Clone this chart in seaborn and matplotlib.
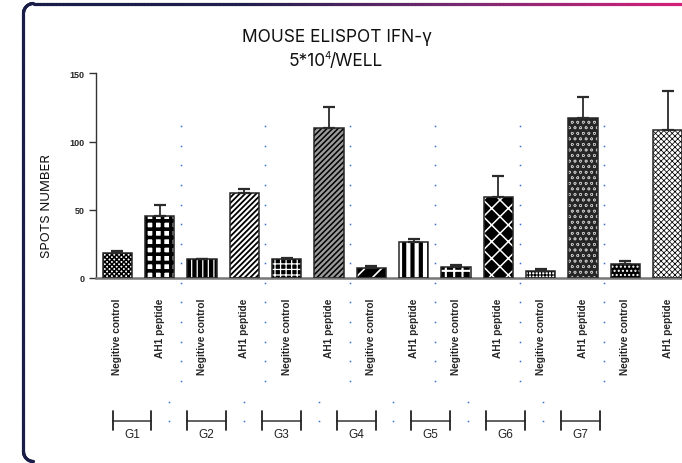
import numpy as np
import pandas as pd
import seaborn as sns
import matplotlib.pyplot as plt
from matplotlib.collections import LineCollection
from matplotlib.colors import LinearSegmentedColormap

# --- data ---
groups = ["G1", "G2", "G3", "G4", "G5", "G6", "G7"]
treatments = ["Negitive control", "AH1 peptide"]
spots_mean = [18.0, 45.4, 13.7, 62.0, 13.7, 110.0, 7.3, 26.3,
              7.8, 59.3, 5.4, 117.0, 10.2, 108.5]
spots_sem = [1.7, 8.2, 0.5, 3.0, 1.2, 15.3, 1.2, 2.0,
             2.0, 15.6, 0.9, 15.9, 2.0, 28.8]
y_ticks = [0, 50, 100, 150]

# face colour, hatch colour, hatch, hatch line width (one per bar)
bar_styles = [
    ("white", "black", "xxxxxxx", 1.1),
    ("white", "black", "++", 2.6),
    ("black", "white", "|||", 0.9),
    ("white", "black", "//////", 1.3),
    ("black", "white", "+++", 0.9),
    ("#9a9a9a", "black", "//////", 1.1),
    ("black", "white", "//", 1.2),
    ("white", "black", "||", 3.0),
    ("black", "white", "++", 1.5),
    ("black", "white", "xx", 1.1),
    ("white", "black", "+++++", 0.8),
    ("#262626", "#bbbbbb", "ooo", 0.45),
    ("black", "white", "....", 1.0),
    ("white", "black", "xxxxxx", 0.55),
]

bar_ids = [f"{g} {t}" for g in groups for t in treatments]
tick_labels = [t for g in groups for t in treatments]
df = pd.DataFrame({"bar": bar_ids, "spots": spots_mean})

sns.set_style("white")
plt.rcParams["font.family"] = ["Liberation Sans", "DejaVu Sans"]

W, H = 682, 464
fig = plt.figure(figsize=(W / 100, H / 100), dpi=100)
ax = fig.add_axes([96 / W, 1 - 279 / H, 593 / W, 204.7 / H])

sns.barplot(data=df, x="bar", y="spots", order=bar_ids, color="white",
            width=0.69, errorbar=None, saturation=1, linewidth=0, ax=ax)

for patch, (face, hcol, hatch, hlw) in zip(ax.patches, bar_styles):
    patch.set_facecolor(face)
    patch.set_edgecolor(hcol)
    patch.set_hatch(hatch)
    patch.set_linewidth(0)
    if hasattr(patch, "set_hatch_linewidth"):
        patch.set_hatch_linewidth(hlw)

xpos = np.arange(len(bar_ids))
ax.bar(xpos, spots_mean, width=0.69, fill=False, edgecolor="#262626",
       linewidth=1.1, zorder=3)
ax.errorbar(xpos, spots_mean, yerr=[np.zeros(len(xpos)), spots_sem],
            fmt="none", ecolor="#2b2b2b", elinewidth=1.3, capsize=4.3,
            capthick=1.6, zorder=4)

ax.set_xlim(-0.5, len(bar_ids) - 0.5)
ax.set_ylim(0, 150)
ax.set_yticks(y_ticks)
ax.set_yticklabels([str(v) for v in y_ticks], fontsize=6.5, fontweight="bold")
ax.set_xticks(xpos)
ax.set_xticklabels(tick_labels, rotation=90, fontsize=7.3, fontweight="bold",
                   va="top")
ax.set_xlabel("")
ax.set_ylabel("")
ax.tick_params(axis="x", length=6, width=1.1, color="#555555", pad=8)
ax.tick_params(axis="y", length=5, width=1, color="#333333", pad=3, left=True)
for s in ["top", "right"]:
    ax.spines[s].set_visible(False)
ax.spines["left"].set_color("#333333")
ax.spines["left"].set_linewidth(1)
ax.spines["bottom"].set_color("#777777")
ax.spines["bottom"].set_linewidth(1.8)

# blue dotted separators between groups
dot_y = 111.2 - 14.34 * np.arange(14)
for x in np.arange(1.5, len(bar_ids) - 2, 2):
    ax.plot(np.full(len(dot_y), x), dot_y, ls="none", marker="s", ms=1.1,
            mew=0, color="#3a6fd0", clip_on=False)

# group brackets underneath
gax = fig.add_axes([94.65 / W, 1 - 445 / H, 522.9 / W, 50 / H])
gax.set_xlim(-0.5, len(groups) - 0.5)
gax.set_ylim(0, 1)
gax.axis("off")
for i, g in enumerate(groups):
    gax.plot([i - 0.26, i + 0.26], [0.46, 0.46], color="#555555", lw=1.3)
    gax.plot([i - 0.26, i - 0.26], [0.28, 0.66], color="#222222", lw=1.3)
    gax.plot([i + 0.26, i + 0.26], [0.28, 0.66], color="#222222", lw=1.3)
    gax.text(i, 0.2, g, ha="center", va="center", fontsize=8.5,
             color="#222222")
    if i < len(groups) - 1:
        gax.plot([i + 0.5, i + 0.5], [0.846, 0.46], ls="none", marker="s",
                 ms=1.1, mew=0, color="#3a6fd0")

# titles (superscript drawn as a smaller raised piece)
title_font = ["Inter", "DejaVu Sans"]
fig.text(0.494, 1 - 37 / H, "MOUSE ELISPOT IFN-γ", ha="center", va="center",
         fontsize=12.5, family=title_font, color="#111111")
sup_x = 326 / W
fig.text(sup_x, 1 - 61 / H, "5*10", ha="right", va="center",
         fontsize=12.5, family=title_font, color="#111111")
fig.text(sup_x - 1.5 / W, 1 - 56 / H, "4", ha="left", va="center",
         fontsize=7, family=title_font, color="#111111")
fig.text(sup_x + 3.5 / W, 1 - 61 / H, "/WELL", ha="left", va="center",
         fontsize=12.5, family=title_font, color="#111111")
fig.text(47 / W, 1 - 206 / H, "SPOTS NUMBER", rotation=90, ha="center",
         va="center", fontsize=9.5, family=title_font, color="#111111")

# rounded gradient frame
r = 10
pts = []
t = np.linspace(np.pi / 2, np.pi, 20)
pts += list(zip(33.5 + r * np.cos(t), 452.5 + r * np.sin(t)))
pts += [(23.5, y) for y in np.linspace(452.5, 14.5, 30)]
t = np.linspace(np.pi, 1.5 * np.pi, 20)
pts += list(zip(33.5 + r * np.cos(t), 14.5 + r * np.sin(t)))
pts += [(x, 4.5) for x in np.linspace(33.5, W, 200)]
pts = np.array(pts)
fpts = np.column_stack([pts[:, 0] / W, 1 - pts[:, 1] / H])
segs = np.stack([fpts[:-1], fpts[1:]], axis=1)
cmap = LinearSegmentedColormap.from_list("frame", ["#1a1d48", "#1f1f4d", "#7a2a72", "#d42079"])
frac = np.clip((pts[:-1, 0] - 20) / (W - 20), 0, 1)
lc = LineCollection(segs, colors=cmap(frac), linewidths=2.3,
                    transform=fig.transFigure, capstyle="round")
fig.add_artist(lc)

fig.savefig("out.png", dpi=100)
